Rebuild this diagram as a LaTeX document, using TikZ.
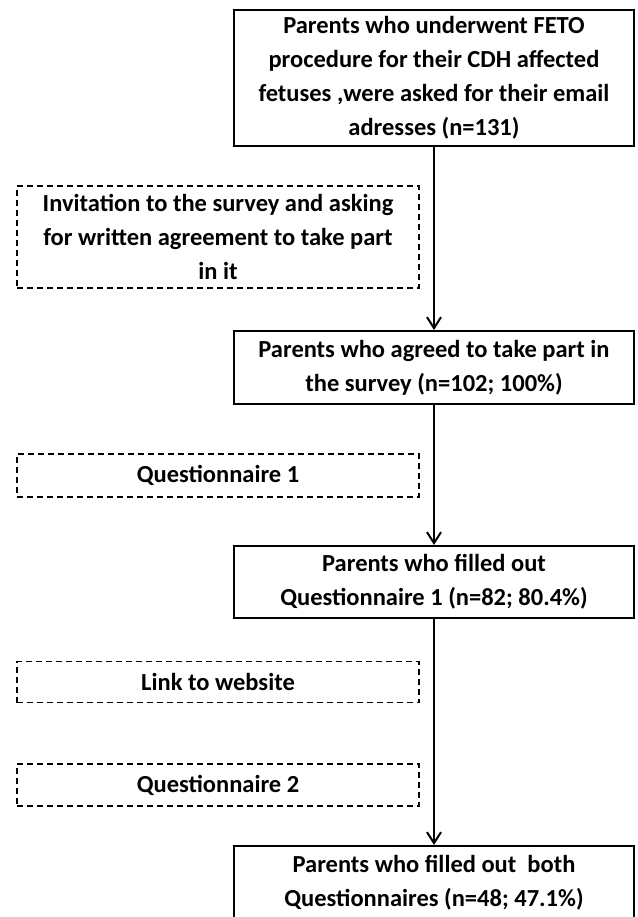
\documentclass[tikz,border=0pt]{standalone}
\usepackage{fontspec}
\setmainfont{Carlito}
\usepackage{tikz}
\usetikzlibrary{arrows.meta, positioning}

\begin{document}
\begin{tikzpicture}[x=1pt, y=1pt,
    stage/.style={rectangle, draw=black, line width=2pt, minimum width=400pt,
                  align=center, font=\bfseries\fontsize{24.5}{34}\selectfont},
    note/.style={rectangle, draw=black, line width=1.8pt, dash pattern=on 6pt off 4pt,
                 minimum width=402pt, align=center, font=\bfseries\fontsize{24.5}{34}\selectfont},
    arr/.style={-{Straight Barb[length=11pt, width=14pt]}, line width=2pt}
]
\useasboundingbox (0,0) rectangle (637,-917);
% main chain
\node[stage, minimum height=136pt] (asked) at (434,-78)
    {Parents who underwent FETO\\procedure for their CDH affected\\fetuses ,were asked for their email\\adresses (n=131)};
\node[stage, minimum height=73pt, below=183pt of asked] (agreed)
    {Parents who agreed to take part in\\the survey (n=102; 100\%)};
\node[stage, minimum height=72pt, below=140pt of agreed] (filled)
    {Parents who filled out\\Questionnaire 1 (n=82; 80.4\%)};
\node[stage, minimum height=74pt, below=226pt of filled] (both)
    {Parents who filled out~ both\\Questionnaires (n=48; 47.1\%)};
% side steps
\node[note, minimum height=102pt] (invite) at (218,-237)
    {Invitation to the survey and asking\\for written agreement to take part\\in it};
\node[note, minimum height=43pt] (quest1) at (218,-475.5) {Questionnaire 1};
\node[note, minimum height=41pt] (link) at (218,-682) {Link to website};
\node[note, minimum height=42pt] (quest2) at (218,-785) {Questionnaire 2};
\draw[arr] (asked) -- (agreed);
\draw[arr] (agreed) -- (filled);
\draw[arr] (filled) -- (both);
\end{tikzpicture}
\end{document}
